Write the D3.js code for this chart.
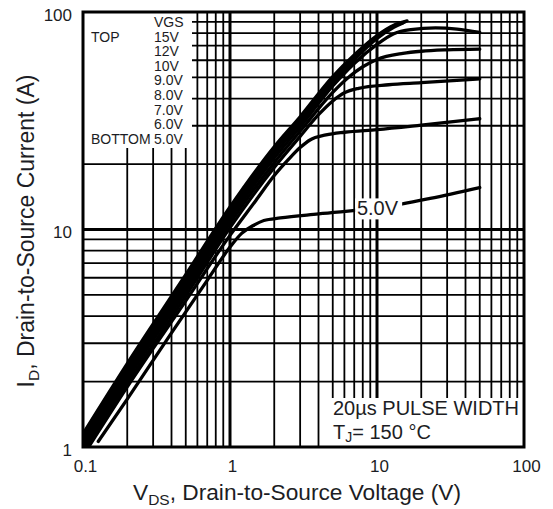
<!DOCTYPE html>
<html>
<head>
<meta charset="utf-8">
<script src="https://cdn.jsdelivr.net/npm/d3@7"></script>
<style>
body { margin: 0; background: #fff; }
text { font-family: "Liberation Sans", Arial, sans-serif; fill: #1c1d24; }
</style>
</head>
<body>
<script>
// Valores: [VDS (V), ID (A)]
var curva15V = [[0.1,1.15],[0.2,2.42],[0.5,6.2],[1,12.7],[2,24],[3,33],[5,50.5],[7,63.5],[10,78],[13,87],[16,91]];
var curva12V = [[0.1,1.11],[0.2,2.33],[0.5,5.95],[1,12.2],[2,23.1],[3,31.9],[5,49],[7,62],[10,77],[13,86],[15.5,90]];
var curva10V = [[0.1,1.07],[0.2,2.24],[0.5,5.7],[1,11.7],[2,22.2],[3,30.8],[5,47.5],[7,60.3],[10,75.5],[13,85],[15,89]];
var curva9V = [[0.1,1.03],[0.2,2.15],[0.5,5.45],[1,11.2],[2,21.3],[3,29.6],[5,45.7],[7,58],[10,71],[13,79.5],[17,83],[25,84.5],[35,83.5],[50,80.5]];
var curva8V = [[0.1,0.99],[0.2,2.06],[0.5,5.2],[1,10.7],[2,20.3],[3,28.3],[5,42.7],[6.5,50.5],[8,56],[10,60.5],[15,64.5],[20,66],[30,67],[50,67.5]];
var curva7V = [[0.1,0.95],[0.2,1.97],[0.5,4.95],[1,10.2],[2,19.3],[3,26.8],[4,33.7],[5,39],[6,42.5],[7.5,44.6],[12,46.3],[20,47.3],[50,49.3]];
var curva6V = [[0.1,0.91],[0.2,1.89],[0.5,4.7],[1,9.4],[1.5,13.6],[2,17.7],[2.5,21],[3,23.8],[3.5,25.8],[4.5,27.2],[6,28],[10,28.8],[20,30.2],[50,32.3]];
var curva5V = [[0.127,1.06],[0.2,1.66],[0.4,3.35],[0.7,5.84],[1,8.3],[1.2,9.6],[1.43,10.4],[1.7,11],[2.2,11.3],[4,11.8],[10.5,12.6],[23,13.9],[50,15.6]];

var etiquetasVGS = ["VGS","15V","12V","10V","9.0V","8.0V","7.0V","6.0V","5.0V"];
var ticksX = [0.1, 1, 10, 100];
var ticksY = [1, 10, 100];
var etiquetasX = ["0.1", "1", "10", "100"];
var etiquetasY = ["1", "10", "100"];

var ancho = 553, alto = 509;
var margin = {top: 12, right: 29, bottom: 62, left: 83};

var x = d3.scaleLog().domain([0.1, 100]).range([margin.left, ancho - margin.right]);
var y = d3.scaleLog().domain([1, 100]).range([alto - margin.bottom, margin.top]);

var svg = d3.select("body").append("svg")
    .attr("width", ancho)
    .attr("height", alto);

//Rejilla
var grid = svg.append("g");
grid.selectAll(".vx")
    .data(x.ticks())
    .enter().append("line")
    .attr("x1", function(d){ return x(d); })
    .attr("x2", function(d){ return x(d); })
    .attr("y1", y(1))
    .attr("y2", y(100))
    .attr("stroke", "#000")
    .attr("stroke-width", function(d){ return (d === 1 || d === 10) ? 3 : 1.8; });
grid.selectAll(".hy")
    .data(y.ticks())
    .enter().append("line")
    .attr("y1", function(d){ return y(d); })
    .attr("y2", function(d){ return y(d); })
    .attr("x1", x(0.1))
    .attr("x2", x(100))
    .attr("stroke", "#000")
    .attr("stroke-width", function(d){ return d === 10 ? 3 : 1.8; });

//Cajas blancas de leyenda y nota
svg.append("rect")
    .attr("x", x(0.1)).attr("y", y(100))
    .attr("width", 109).attr("height", 136)
    .attr("fill", "#fff");
svg.append("rect")
    .attr("x", 330).attr("y", 398)
    .attr("width", x(100) - 330).attr("height", y(1) - 398)
    .attr("fill", "#fff");

//Curvas
svg.append("clipPath").attr("id", "recorte")
    .append("rect")
    .attr("x", x(0.1)).attr("y", y(100))
    .attr("width", x(100) - x(0.1)).attr("height", y(1) - y(100));

var linea = d3.line()
    .x(function(d){ return x(d[0]); })
    .y(function(d){ return y(d[1]); })
    .curve(d3.curveMonotoneX);

var curvas = [curva15V, curva12V, curva10V, curva9V, curva8V, curva7V, curva6V, curva5V];
svg.append("g")
    .attr("clip-path", "url(#recorte)")
    .selectAll("path")
    .data(curvas)
    .enter().append("path")
    .attr("d", linea)
    .attr("fill", "none")
    .attr("stroke", "#000")
    .attr("stroke-width", 3.3)
    .attr("stroke-linecap", "round");

//Etiqueta 5.0V sobre la curva
svg.append("rect")
    .attr("x", x(7.1)).attr("y", y(13.9))
    .attr("width", 47).attr("height", 21)
    .attr("fill", "#fff");
svg.append("text")
    .attr("x", x(7.3)).attr("y", y(11.6))
    .attr("font-size", 20)
    .text("5.0V");

//Marco
svg.append("rect")
    .attr("x", x(0.1)).attr("y", y(100))
    .attr("width", x(100) - x(0.1)).attr("height", y(1) - y(100))
    .attr("fill", "none")
    .attr("stroke", "#000")
    .attr("stroke-width", 3);

//Leyenda
var leyenda = svg.append("g").attr("font-size", 14);
leyenda.selectAll(".vgs")
    .data(etiquetasVGS)
    .enter().append("text")
    .attr("x", 154)
    .attr("y", function(d, i){ return 27 + i * 14.6; })
    .text(function(d){ return d; });
leyenda.append("text").attr("x", 91).attr("y", 27 + 14.6).text("TOP");
leyenda.append("text").attr("x", 91).attr("y", 27 + 8 * 14.6).text("BOTTOM");

//Nota
var nota = svg.append("g").attr("font-size", 20);
nota.append("text").attr("x", 333).attr("y", 415).text("20\u00b5s PULSE WIDTH");
var tj = nota.append("text").attr("x", 333).attr("y", 439);
tj.append("tspan").text("T");
tj.append("tspan").attr("font-size", 14).attr("dy", 3).text("J");
tj.append("tspan").attr("dy", -3).text("= 150 \u00b0C");

//Etiquetas de ejes
svg.append("g").attr("font-size", 17)
    .selectAll("text")
    .data(ticksX)
    .enter().append("text")
    .attr("x", function(d){ return x(d) + 2.5; })
    .attr("y", 472)
    .attr("text-anchor", "middle")
    .text(function(d, i){ return etiquetasX[i]; });
svg.append("g").attr("font-size", 17)
    .selectAll("text")
    .data(ticksY)
    .enter().append("text")
    .attr("x", 72)
    .attr("y", function(d){ return y(d) + 8.5; })
    .attr("text-anchor", "end")
    .text(function(d, i){ return etiquetasY[i]; });

//Titulos
var tx = svg.append("text")
    .attr("x", 297).attr("y", 500)
    .attr("text-anchor", "middle")
    .attr("font-size", 22.7);
tx.append("tspan").text("V");
tx.append("tspan").attr("font-size", 15.5).attr("dy", 5).text("DS");
tx.append("tspan").attr("dy", -5).text(", Drain-to-Source Voltage (V)");

var ty = svg.append("text")
    .attr("transform", "translate(34,231) rotate(-90)")
    .attr("text-anchor", "middle")
    .attr("font-size", 23);
ty.append("tspan").text("I");
ty.append("tspan").attr("font-size", 15.5).attr("dy", 5).text("D");
ty.append("tspan").attr("dy", -5).text(",  Drain-to-Source Current (A)");
</script>
</body>
</html>
